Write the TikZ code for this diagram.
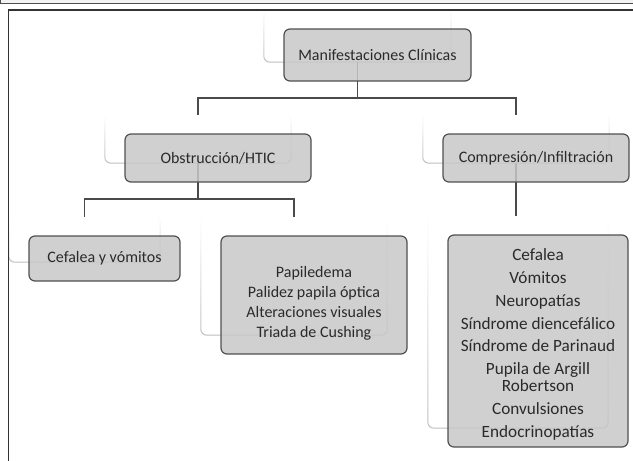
\documentclass[tikz,border=0pt]{standalone}
\usepackage{fontspec}
\setmainfont{Carlito}
\usetikzlibrary{fadings}
\definecolor{boxfill}{HTML}{C8C8C8}
\definecolor{boxdraw}{HTML}{505050}
\definecolor{ghostdraw}{HTML}{BDBDBD}
\definecolor{linecol}{HTML}{4A4A4A}
\definecolor{txt}{HTML}{2A2A2A}
\definecolor{framecol}{HTML}{333333}
\begin{document}
\begin{tikzpicture}[x=1pt,y=-1pt,
  mainbox/.style={draw=boxdraw, line width=1.2pt, fill=boxfill, fill opacity=0.85, text opacity=1,
    rounded corners=6pt, inner sep=0pt, text=txt, align=center, font=\fontsize{16}{20}\selectfont},
  ghostbox/.style={inner sep=0pt},
  ghostline/.style={draw=ghostdraw, line width=1pt, rounded corners=6pt, path fading=north},
  conn/.style={draw=linecol, line width=1.3pt}]
\useasboundingbox (0,0) rectangle (633,461);
% top band
\fill[black!5] (-1,-1) rectangle (634,3);
\draw[line width=1pt, black!70] (0.5,-2) -- (0.5,3) -- (634,3);
% ghost boxes (anchors) and their fading outlines
\node[ghostbox, minimum width=187pt, minimum height=52pt] (gM) at (357.5,36) {};
\node[ghostbox, minimum width=186pt, minimum height=48pt] (gO) at (198,139) {};
\node[ghostbox, minimum width=186pt, minimum height=48pt] (gC) at (516,139) {};
\node[ghostbox, minimum width=151pt, minimum height=45pt] (gCef) at (84.5,239.5) {};
\node[ghostbox, minimum width=186pt, minimum height=118pt] (gP) at (294,276) {};
\node[ghostbox, minimum width=180pt, minimum height=212pt] (gR) at (518,322) {};
\foreach \g in {gM,gO,gC,gCef,gP,gR}
  \path[ghostline] (\g.north west) rectangle (\g.south east);
% frame
\draw[line width=1.7pt, framecol] (8.5,462) -- (8.5,10) -- (634,10);
% connectors
\coordinate (h1) at (0,98);
\coordinate (h2) at (0,199);
\draw[conn] (gM.south) -- (gM.south |- h1);
\draw[conn] (gO.north) -- (gO.north |- h1) -- (gC.north |- h1) -- (gC.north);
\draw[conn] (gO.south) -- (gO.south |- h2);
\draw[conn] (gCef.north) -- (gCef.north |- h2) -- (gP.north |- h2) -- (gP.north);
\draw[conn] (gC.south) -- (gC.south |- gR.north);
% main boxes
\node[mainbox, minimum width=187pt, minimum height=52pt] (M) at (377.5,55) {Manifestaciones Clínicas};
\node[mainbox, minimum width=186pt, minimum height=48pt] (O) at (218,158) {Obstrucción/HTIC};
\node[mainbox, minimum width=186pt, minimum height=48pt] (C) at (536,158) {Compresión/Infiltración};
\node[mainbox, minimum width=151pt, minimum height=45pt] (Cef) at (104.5,258.5) {Cefalea y vómitos};
\node[mainbox, minimum width=186pt, minimum height=118pt] (P) at (314,295)
  {\raisebox{-8pt}[\height][\depth]{\begin{tabular}{@{}c@{}}Papiledema\\Palidez papila óptica\\Alteraciones visuales\\Triada de Cushing\end{tabular}}};
\node[mainbox, minimum width=180pt, minimum height=212pt, font=\fontsize{17.2}{22.7}\selectfont] (R) at (538,341)
  {\raisebox{-3.5pt}[\height][\depth]{\begin{tabular}{@{}c@{}}Cefalea\\Vómitos\\Neuropatías\\Síndrome diencefálico\\Síndrome de Parinaud\\Pupila de Argill\\[-5.5pt]Robertson\\Convulsiones\\Endocrinopatías\end{tabular}}};
\end{tikzpicture}
\end{document}
